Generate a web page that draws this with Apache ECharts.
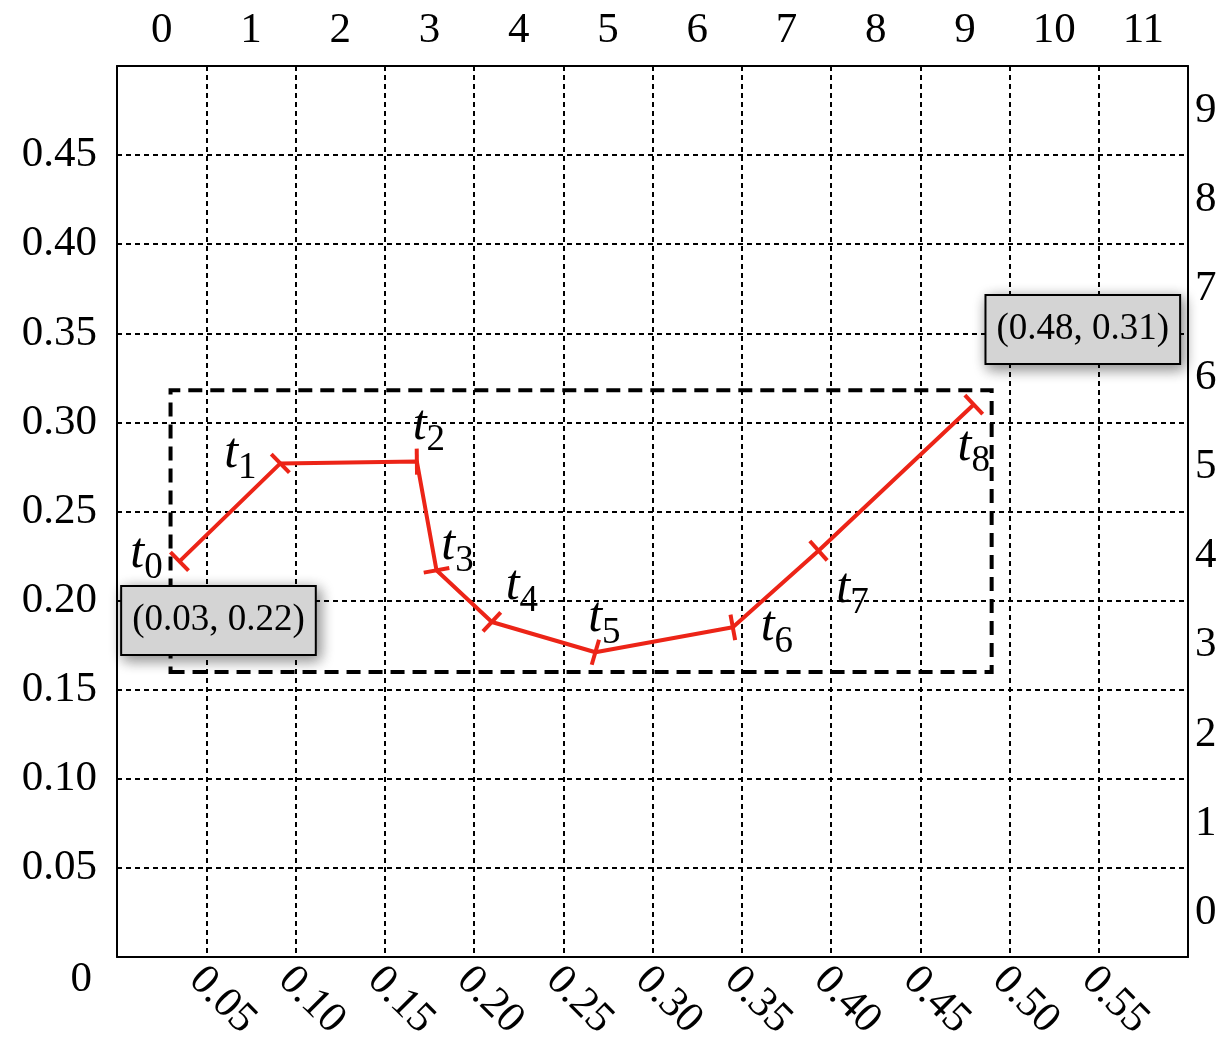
<!DOCTYPE html>
<html>
<head>
<meta charset="utf-8">
<script src="https://cdn.jsdelivr.net/npm/echarts@6/dist/echarts.min.js"></script>
<style>
  html, body { margin: 0; padding: 0; background: #fff; }
  #chart { width: 1219px; height: 1042px; }
</style>
</head>
<body>
<div id="chart"></div>
<script>
// path points t0..t8
var pointX = [0.035, 0.0915, 0.168, 0.179, 0.210, 0.268, 0.345, 0.393, 0.480];
var pointY = [0.222, 0.277, 0.278, 0.217, 0.188, 0.171, 0.185, 0.228, 0.310];
var pointNames = ['0', '1', '2', '3', '4', '5', '6', '7', '8'];

// secondary axes (top / right)
var topTicks = ['0', '1', '2', '3', '4', '5', '6', '7', '8', '9', '10', '11'];
var rightTicks = ['0', '1', '2', '3', '4', '5', '6', '7', '8', '9'];

// dashed bounding box
var boxCorners = [[0.03, 0.16], [0.49, 0.318]];

// start / end notes
var startNote = '(0.03, 0.22)';
var endNote = '(0.48, 0.31)';

// layout only: where each t_i label sits relative to its point (px)
var labelOffsets = [[-33, -8], [-40, -10], [12, -36], [21, -24], [30, -36], [9, -34], [44, 0], [34, 38], [0, 42]];

var FONT = 'Liberation Serif';
var RED = '#ec2417';
var TICK_FS = 43;

var chart = echarts.init(document.getElementById('chart'));

var gridLine = { show: true, lineStyle: { color: '#000', width: 2, type: [5, 4] } };
var frame = { show: true, lineStyle: { color: '#000', width: 2 } };

function buildData(rot) {
  return pointX.map(function (x, i) {
    return {
      value: [x, pointY[i]],
      symbolRotate: rot ? rot[i] : 0,
      label: { offset: labelOffsets[i] }
    };
  });
}

var option = {
  animation: false,
  textStyle: { fontFamily: FONT },
  grid: { left: 117, right: 31, top: 66, bottom: 85, outerBoundsMode: 'none' },
  xAxis: [{
    type: 'value', position: 'bottom', min: 0, max: 0.6, interval: 0.05,
    axisLine: frame, axisTick: { show: false }, splitLine: gridLine,
    axisLabel: {
      rotate: -45, margin: 6, fontSize: TICK_FS, fontFamily: FONT, color: '#000',
      showMinLabel: false, showMaxLabel: false,
      formatter: function (v) { return '{x|' + v.toFixed(2) + '}'; },
      rich: { x: { fontSize: TICK_FS, fontFamily: FONT, color: '#000', padding: [30, 0, 0, 0] } }
    }
  }, {
    type: 'category', position: 'top', data: topTicks, boundaryGap: true,
    axisLine: frame, axisTick: { show: false }, splitLine: { show: false },
    axisLabel: { margin: 14, fontSize: TICK_FS, fontFamily: FONT, color: '#000' }
  }],
  yAxis: [{
    type: 'value', position: 'left', min: 0, max: 0.5, interval: 0.05,
    axisLine: frame, axisTick: { show: false }, splitLine: gridLine,
    axisLabel: {
      margin: 20, fontSize: TICK_FS, fontFamily: FONT, color: '#000', showMaxLabel: false,
      formatter: function (v) { return v === 0 ? '{z|0}' : v.toFixed(2); },
      rich: { z: { fontSize: TICK_FS, fontFamily: FONT, color: '#000', padding: [46, 5, 0, 0] } }
    }
  }, {
    type: 'category', position: 'right', data: rightTicks, boundaryGap: true,
    axisLine: frame, axisTick: { show: false }, splitLine: { show: false },
    axisLabel: { margin: 7, fontSize: TICK_FS, fontFamily: FONT, color: '#000' }
  }],
  series: [{
    type: 'line',
    xAxisIndex: 0, yAxisIndex: 0,
    data: buildData(null),
    lineStyle: { color: RED, width: 4 },
    itemStyle: { color: RED },
    symbol: 'rect', symbolSize: [4, 26],
    label: {
      show: true, position: 'inside',
      formatter: function (p) { return '{t|t}{s|' + pointNames[p.dataIndex] + '}'; },
      rich: {
        t: { fontSize: 50, fontStyle: 'italic', fontFamily: FONT, color: '#000' },
        s: { fontSize: 37, fontFamily: FONT, color: '#000', padding: [30, 0, 0, 0] }
      }
    },
    markArea: {
      silent: true,
      itemStyle: { color: 'rgba(0,0,0,0)', borderColor: '#000', borderWidth: 4, borderType: [14, 8] },
      data: [[{ coord: boxCorners[0] }, { coord: boxCorners[1] }]]
    },
    markPoint: {
      silent: true,
      symbol: 'circle', symbolSize: 1,
      itemStyle: { color: 'rgba(0,0,0,0)' },
      label: {
        show: true, position: 'inside',
        fontSize: 37, lineHeight: 37, fontFamily: FONT, color: '#000',
        backgroundColor: '#d4d4d4', borderColor: '#000', borderWidth: 2,
        padding: [15, 10, 15, 10],
        shadowBlur: 14, shadowColor: 'rgba(0,0,0,0.45)', shadowOffsetX: 3, shadowOffsetY: 4,
        formatter: function (p) { return p.name; }
      },
      data: [
        { name: startNote, coord: [pointX[0], pointY[0]], label: { offset: [39, 59] } },
        { name: endNote, coord: [pointX[8], pointY[8]], label: { offset: [109, -75] } }
      ]
    }
  }]
};

chart.setOption(option);

// rotate each tick mark so it is perpendicular to its incoming segment
var px = pointX.map(function (x, i) { return chart.convertToPixel({ seriesIndex: 0 }, [x, pointY[i]]); });
var rot = px.map(function (p, i) {
  var a = i === 0 ? px[0] : px[i - 1];
  var b = i === 0 ? px[1] : px[i];
  return Math.atan2(-(b[1] - a[1]), b[0] - a[0]) * 180 / Math.PI;
});
chart.setOption({ series: [{ data: buildData(rot) }] });
</script>
</body>
</html>
